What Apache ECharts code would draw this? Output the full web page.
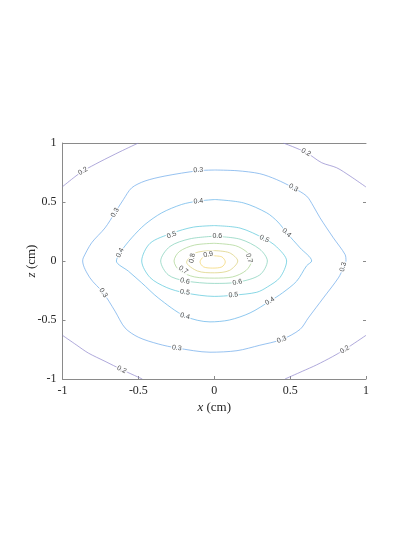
<!DOCTYPE html>
<html>
<head>
<meta charset="utf-8">
<script src="https://cdn.jsdelivr.net/npm/echarts@6/dist/echarts.min.js"></script>
<style>
  html, body { margin: 0; padding: 0; background: #fff; }
  #main { width: 415px; height: 537px; }
</style>
</head>
<body>
<div id="main"></div>
<script>
  // contour lines, [x, z] in cm
  const c02a = [[-1, 0.63], [-0.918, 0.714], [-0.865, 0.763], [-0.753, 0.841], [-0.621, 0.926], [-0.5, 1.0]]
  const c02b = [[0.455, 1], [0.605, 0.92], [0.708, 0.833], [0.807, 0.79], [0.895, 0.72], [1, 0.627]]
  const c02c = [[-1, -0.63], [-0.91, -0.71], [-0.83, -0.78], [-0.72, -0.85], [-0.61, -0.92], [-0.474, -1]]
  const c02d = [[0.466, -1], [0.58, -0.935], [0.675, -0.88], [0.78, -0.81], [0.86, -0.75], [1, -0.63]]
  const c03 = [[0.005, 0.771], [0.15, 0.765], [0.30, 0.74], [0.411, 0.69], [0.521, 0.62], [0.609, 0.55],
    [0.653, 0.465], [0.697, 0.366], [0.785, 0.196], [0.862, 0.055], [0.868, 0], [0.85, -0.06],
    [0.818, -0.143], [0.719, -0.313], [0.62, -0.482], [0.565, -0.58], [0.444, -0.666], [0.30, -0.714],
    [0.15, -0.76], [-0.028, -0.773], [-0.247, -0.737], [-0.369, -0.703], [-0.5, -0.646], [-0.588, -0.567],
    [-0.654, -0.425], [-0.731, -0.27], [-0.819, -0.143], [-0.867, 0], [-0.863, 0.027], [-0.808, 0.154],
    [-0.72, 0.28], [-0.654, 0.41], [-0.599, 0.52], [-0.544, 0.62], [-0.456, 0.678], [-0.325, 0.72],
    [-0.105, 0.765], [0.005, 0.771]]
  const c04 = [[0.005, 0.521], [0.191, 0.493], [0.346, 0.408], [0.42, 0.33], [0.477, 0.239], [0.565, 0.112],
    [0.642, 0], [0.609, -0.04], [0.543, -0.171], [0.45, -0.27], [0.367, -0.34], [0.236, -0.44], [0.1, -0.5],
    [-0.028, -0.516], [-0.193, -0.468], [-0.369, -0.313], [-0.478, -0.185], [-0.566, -0.086], [-0.645, 0],
    [-0.621, 0.07], [-0.544, 0.196], [-0.456, 0.31], [-0.346, 0.408], [-0.215, 0.479], [-0.105, 0.508],
    [0.005, 0.521]]
  const c05 = [[0, 0.30], [0.17, 0.279], [0.33, 0.19], [0.411, 0.12], [0.477, 0], [0.433, -0.14], [0.35, -0.22],
    [0.28, -0.265], [0.126, -0.29], [0, -0.30], [-0.193, -0.27], [-0.313, -0.225], [-0.423, -0.14], [-0.478, 0],
    [-0.423, 0.15], [-0.28, 0.235], [-0.138, 0.287], [0, 0.30]]
  const c06 = [[0, 0.21], [0.17, 0.185], [0.30, 0.10], [0.35, 0], [0.30, -0.118], [0.152, -0.18], [0, -0.19],
    [-0.193, -0.168], [-0.303, -0.118], [-0.353, 0], [-0.292, 0.123], [-0.16, 0.188], [0, 0.21]]
  const c07 = [[0, 0.15], [0.14, 0.13], [0.22, 0.07], [0.245, 0], [0.21, -0.08], [0.12, -0.135], [0, -0.145],
    [-0.13, -0.135], [-0.23, -0.08], [-0.265, 0], [-0.23, 0.08], [-0.13, 0.135], [0, 0.15]]
  const c08 = [[0, 0.088], [0.1, 0.07], [0.155, 0], [0.1, -0.08], [0, -0.10], [-0.11, -0.085], [-0.182, -0.01],
    [-0.12, 0.07], [0, 0.088]]
  const c09 = [[-0.01, 0.044], [0.05, 0.035], [0.073, -0.008], [0.05, -0.05], [-0.01, -0.06], [-0.07, -0.05],
    [-0.094, -0.008], [-0.07, 0.035], [-0.01, 0.044]]

  // contour labels
  const labelX = [-0.865, 0.605, -0.61, 0.86, -0.105, -0.654, 0.521, 0.85, -0.731, -0.247, 0.444,
    -0.105, -0.621, 0.477, -0.193, 0.367, -0.28, 0.33, -0.193, 0.126, 0.02, -0.193, 0.152, 0.23, -0.204, -0.145, -0.04]
  const labelZ = [0.763, 0.92, -0.92, -0.75, 0.771, 0.41, 0.62, -0.05, -0.27, -0.737, -0.666,
    0.508, 0.07, 0.239, -0.468, -0.34, 0.22, 0.188, -0.264, -0.287, 0.21, -0.17, -0.18, 0.024, -0.075, 0.024, 0.055]
  const labelText = ['0.2', '0.2', '0.2', '0.2', '0.3', '0.3', '0.3', '0.3', '0.3', '0.3', '0.3',
    '0.4', '0.4', '0.4', '0.4', '0.4', '0.5', '0.5', '0.5', '0.5', '0.6', '0.6', '0.6', '0.7', '0.7', '0.8', '0.9']
  const labelAngle = [31, -28, -25, 32, 4, 60, -30, 75, -55, -8, 20,
    5, 65, -42, -15, 32, 20, -25, -8, 5, 0, -12, 12, -75, -35, 80, 10]

  const levelColors = {
    '0.2': '#8d84cc', '0.3': '#6aa8ea', '0.4': '#5eb0e8', '0.5': '#55c6da',
    '0.6': '#7ccfb6', '0.7': '#a6d38c', '0.8': '#d8cd74', '0.9': '#f2d266'
  }

  const lines = [
    ['0.2', c02a], ['0.2', c02b], ['0.2', c02c], ['0.2', c02d],
    ['0.3', c03], ['0.4', c04], ['0.5', c05], ['0.6', c06],
    ['0.7', c07], ['0.8', c08], ['0.9', c09]
  ]

  const series = lines.map(function (l) {
    return {
      type: 'line',
      data: l[1],
      smooth: 0.3,
      showSymbol: false,
      silent: true,
      z: 2,
      lineStyle: { color: levelColors[l[0]], width: 0.7 }
    }
  })

  series.push({
    type: 'scatter',
    symbolSize: 0,
    silent: true,
    z: 5,
    data: labelX.map(function (x, i) {
      return {
        value: [x, labelZ[i]],
        label: {
          show: true,
          position: 'inside',
          formatter: labelText[i],
          rotate: labelAngle[i],
          fontFamily: 'Liberation Sans',
          fontSize: 7,
          color: '#1a1a1a',
          backgroundColor: '#fff',
          padding: [0, 1]
        }
      }
    })
  })

  const serif = 'Liberation Serif'
  const axisGray = '#8a8a8a'
  const myChart = echarts.init(document.getElementById('main'))
  myChart.setOption({
    animation: false,
    grid: { left: 62.5, right: 49, top: 143, bottom: 158 },
    xAxis: [{
      type: 'value',
      min: -1, max: 1, interval: 0.5,
      splitLine: { show: false },
      axisLine: { show: true, onZero: false, lineStyle: { color: axisGray, width: 1 } },
      axisTick: { show: true, inside: true, length: 3, lineStyle: { color: axisGray } },
      axisLabel: { margin: 6, fontFamily: serif, fontSize: 12, color: '#262626' },
      name: '{i|x} (cm)',
      nameLocation: 'middle',
      nameGap: 22,
      nameMoveOverlap: false,
      nameTextStyle: {
        fontFamily: serif, fontSize: 13, color: '#262626',
        rich: { i: { fontFamily: serif, fontStyle: 'italic', fontSize: 13, color: '#262626' } }
      }
    }, {
      type: 'value',
      position: 'top',
      min: -1, max: 1, interval: 0.5,
      splitLine: { show: false },
      axisLine: { show: true, onZero: false, lineStyle: { color: axisGray, width: 1 } },
      axisTick: { show: false },
      axisLabel: { show: false }
    }],
    yAxis: [{
      type: 'value',
      min: -1, max: 1, interval: 0.5,
      splitLine: { show: false },
      axisLine: { show: true, onZero: false, lineStyle: { color: axisGray, width: 1 } },
      axisTick: { show: true, inside: true, length: 3, lineStyle: { color: axisGray } },
      axisLabel: { margin: 6, fontFamily: serif, fontSize: 12, color: '#262626' },
      name: '{i|z} (cm)',
      nameLocation: 'middle',
      nameGap: 24,
      nameMoveOverlap: false,
      nameTextStyle: {
        fontFamily: serif, fontSize: 13, color: '#262626',
        rich: { i: { fontFamily: serif, fontStyle: 'italic', fontSize: 13, color: '#262626' } }
      }
    }, {
      type: 'value',
      position: 'right',
      min: -1, max: 1, interval: 0.5,
      splitLine: { show: false },
      axisLine: { show: false, onZero: false },
      axisTick: { show: true, inside: true, length: 3, lineStyle: { color: axisGray } },
      axisLabel: { show: false }
    }],
    series: series
  })
</script>
</body>
</html>
